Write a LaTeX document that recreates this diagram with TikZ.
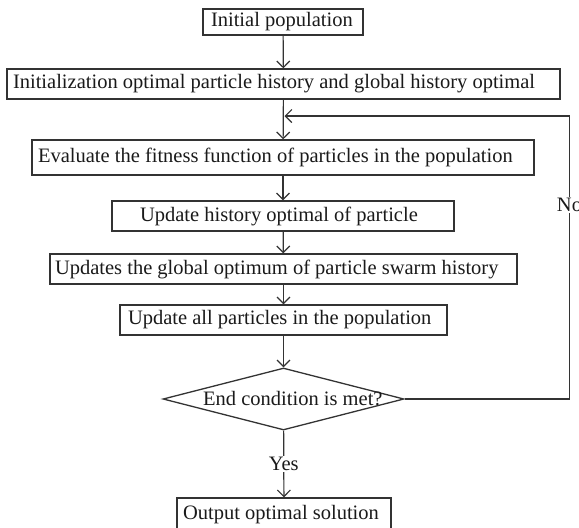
\documentclass[tikz,border=0pt]{standalone}
\usepackage{fontspec}
\setmainfont{Liberation Serif}
\usetikzlibrary{arrows.meta,shapes.geometric}
\newcommand{\padtext}[3]{\makebox[#1][l]{\hspace*{#2}#3}}
\definecolor{linec}{HTML}{333333}
\definecolor{textc}{HTML}{1A1A1A}
\tikzset{
  box/.style={draw=linec, line width=1.3pt, inner sep=0pt, text=textc,
    font=\fontsize{20.5}{24}\selectfont},
  arr/.style={draw=linec, line width=1.2pt, -{Straight Barb[length=6.5pt,width=13pt,line width=1.2pt]}},
  lbl/.style={fill=white, inner sep=1.5pt, text=textc, font=\fontsize{20.5}{24}\selectfont},
}
\begin{document}
\begin{tikzpicture}[x=1pt,y=-1pt]
\useasboundingbox (0,0) rectangle (579,528);
\node[box, minimum width=160pt, minimum height=26pt] (b1) at (283,22) {\padtext{160pt}{8pt}{Initial population}};
\node[box, minimum width=553pt, minimum height=30pt] (b2) at (283.5,84) {\padtext{553pt}{6pt}{Initialization optimal particle history and global history optimal}};
\node[box, minimum width=502pt, minimum height=35pt] (b3) at (283,157.5) {\padtext{502pt}{6pt}{Evaluate the fitness function of particles in the population}};
\node[box, minimum width=342pt, minimum height=30pt] (b4) at (283,216) {\padtext{342pt}{28pt}{Update history optimal of particle}};
\node[box, minimum width=467pt, minimum height=30pt] (b5) at (283.5,269) {\padtext{467pt}{5pt}{Updates the global optimum of particle swarm history}};
\node[box, minimum width=327pt, minimum height=30pt] (b6) at (283.5,320) {\padtext{327pt}{8pt}{Update all particles in the population}};
\node[box, diamond, minimum width=241pt, minimum height=62pt] (dia) at (283.5,399) {};
\node[text=textc, font=\fontsize{20.5}{24}\selectfont, inner sep=0pt, anchor=west] (diat) at (203,399) {End condition is met?};
\node[box, minimum width=214pt, minimum height=34pt] (b7) at (284,515) {\padtext{214pt}{6pt}{Output optimal solution}};
\coordinate (loopin) at (284.5,116);
\coordinate (loopcorner) at (569.5,116);
\draw[arr] (b1) -- (b2);
\draw[arr] (b2) -- (b3);
\draw[arr] (b3) -- (b4);
\draw[arr] (b4) -- (b5);
\draw[arr] (b5) -- (b6);
\draw[arr] (b6) -- (dia);
\draw[arr] (dia) -- (b7) node[lbl, pos=0.5] (yes) {Yes};
\draw[arr] (dia.east) -| (loopcorner) -- (loopin);
\node[lbl] (no) at (569.5,205) {No};
\end{tikzpicture}
\end{document}
